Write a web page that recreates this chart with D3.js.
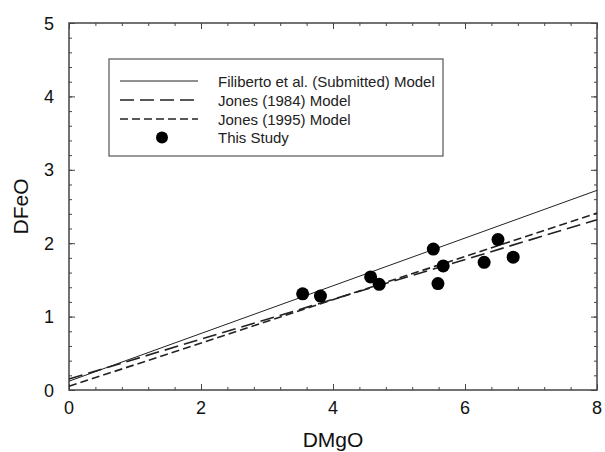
<!DOCTYPE html>
<html>
<head>
<meta charset="utf-8">
<script src="https://cdn.jsdelivr.net/npm/d3@7"></script>
<style>
  html, body { margin: 0; padding: 0; background: #fff; }
  svg { display: block; font-family: "Liberation Sans", Arial, Helvetica, sans-serif; }
</style>
</head>
<body>
<svg id="chart" width="605" height="452"></svg>
<script>
// Measured partition coefficients (this study)
const dMgO = [3.54, 3.81, 4.57, 4.70, 5.52, 5.67, 5.59, 6.29, 6.50, 6.73];
const dFeO = [1.31, 1.28, 1.54, 1.44, 1.92, 1.69, 1.45, 1.74, 2.05, 1.81];

// Model lines: DFeO at DMgO = 0 and DMgO = 8
const modelNames = ["Filiberto et al. (Submitted) Model", "Jones (1984) Model", "Jones (1995) Model"];
const modelEnds = [[0.12, 2.72], [0.15, 2.32], [0.05, 2.41]];
const modelDash = [null, "14,6", "8,4"];
const pointLabel = "This Study";

const xTicks = [0, 2, 4, 6, 8];
const yTicks = [0, 1, 2, 3, 4, 5];

const svg = d3.select("#chart");
const m = { left: 69, right: 597, top: 23, bottom: 390 };
const x = d3.scaleLinear().domain([0, 8]).range([m.left, m.right]);
const y = d3.scaleLinear().domain([0, 5]).range([m.bottom, m.top]);
const axisColor = "#444";

// Inward ticks on all four sides
function tickAxis(axisGen, transform) {
  const g = svg.append("g").attr("transform", transform).call(axisGen);
  g.select(".domain").remove();
  g.selectAll("line").attr("stroke", axisColor).attr("stroke-width", 1);
  g.selectAll("text").remove();
  return g;
}
const xMinor = d3.range(0, 8.001, 0.4);
const yMinor = d3.range(0, 5.001, 0.2);
tickAxis(d3.axisBottom(x).tickValues(xMinor).tickSizeInner(-3).tickSizeOuter(0), `translate(0,${m.bottom})`);
tickAxis(d3.axisBottom(x).tickValues(xTicks).tickSizeInner(-6).tickSizeOuter(0), `translate(0,${m.bottom})`);
tickAxis(d3.axisTop(x).tickValues(xMinor).tickSizeInner(-3).tickSizeOuter(0), `translate(0,${m.top})`);
tickAxis(d3.axisTop(x).tickValues(xTicks).tickSizeInner(-6).tickSizeOuter(0), `translate(0,${m.top})`);
tickAxis(d3.axisLeft(y).tickValues(yMinor).tickSizeInner(-3).tickSizeOuter(0), `translate(${m.left},0)`);
tickAxis(d3.axisLeft(y).tickValues(yTicks).tickSizeInner(-6).tickSizeOuter(0), `translate(${m.left},0)`);
tickAxis(d3.axisRight(y).tickValues(yMinor).tickSizeInner(-3).tickSizeOuter(0), `translate(${m.right},0)`);
tickAxis(d3.axisRight(y).tickValues(yTicks).tickSizeInner(-6).tickSizeOuter(0), `translate(${m.right},0)`);

// Frame
svg.append("rect")
  .attr("x", m.left).attr("y", m.top)
  .attr("width", m.right - m.left).attr("height", m.bottom - m.top)
  .attr("fill", "none").attr("stroke", axisColor).attr("stroke-width", 1.5);

// Tick labels
svg.append("g").selectAll("text").data(xTicks).join("text")
  .attr("x", d => x(d)).attr("y", m.bottom + 23.5)
  .attr("text-anchor", "middle").attr("font-size", 18).attr("fill", "#111")
  .text(d => d);
svg.append("g").selectAll("text").data(yTicks).join("text")
  .attr("x", m.left - 15).attr("y", d => y(d) + 6.5)
  .attr("text-anchor", "end").attr("font-size", 18).attr("fill", "#111")
  .text(d => d);

// Axis titles
svg.append("text").attr("x", (m.left + m.right) / 2).attr("y", 447)
  .attr("text-anchor", "middle").attr("font-size", 21).attr("fill", "#111").text("DMgO");
svg.append("text").attr("transform", `translate(28,${(m.top + m.bottom) / 2}) rotate(-90)`)
  .attr("text-anchor", "middle").attr("font-size", 21).attr("fill", "#111").text("DFeO");

// Model lines
const line = d3.line().x(d => x(d[0])).y(d => y(d[1]));
const plot = svg.append("g");
modelEnds.forEach((ends, i) => {
  plot.append("path")
    .datum([[0, ends[0]], [8, ends[1]]])
    .attr("d", line)
    .attr("fill", "none")
    .attr("stroke", "#222")
    .attr("stroke-width", i === 0 ? 1 : 1.6)
    .attr("stroke-dasharray", modelDash[i]);
});

// Data points
plot.selectAll("circle").data(dMgO).join("circle")
  .attr("cx", d => x(d))
  .attr("cy", (d, i) => y(dFeO[i]))
  .attr("r", 6.5)
  .attr("fill", "#000");

// Legend
const lg = svg.append("g");
lg.append("rect").attr("x", 109).attr("y", 59).attr("width", 334).attr("height", 97)
  .attr("fill", "#fff").attr("stroke", "#555").attr("stroke-width", 1.2);
const rowY = [81, 100, 119, 137.5];
modelNames.forEach((name, i) => {
  lg.append("line").attr("x1", 120).attr("x2", 198).attr("y1", rowY[i]).attr("y2", rowY[i])
    .attr("stroke", "#222").attr("stroke-width", i === 0 ? 1.2 : 1.6)
    .attr("stroke-dasharray", modelDash[i]);
  lg.append("text").attr("x", 218).attr("y", rowY[i] + 5.5)
    .attr("font-size", 15).attr("fill", "#222").text(name);
});
lg.append("circle").attr("cx", 162).attr("cy", rowY[3]).attr("r", 6).attr("fill", "#000");
lg.append("text").attr("x", 218).attr("y", rowY[3] + 5.5)
  .attr("font-size", 15).attr("fill", "#222").text(pointLabel);
</script>
</body>
</html>
